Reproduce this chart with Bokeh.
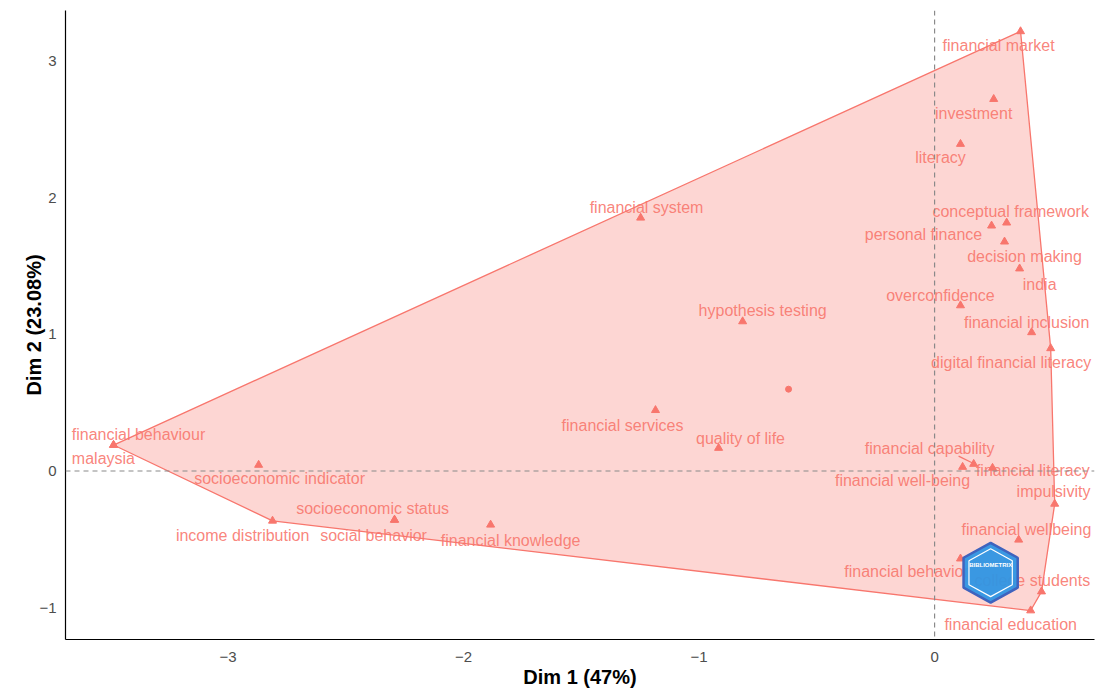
import numpy as np
from bokeh.plotting import figure
from bokeh.models import Range1d, FixedTicker, Span, ColumnDataSource
from bokeh.core.properties import value
from bokeh.embed import file_html
from bokeh.resources import INLINE

# ---- data ----
terms = ["financial market", "investment", "literacy", "conceptual framework",
         "personal finance", "decision making", "india", "overconfidence",
         "financial inclusion", "digital financial literacy", "financial capability",
         "financial well-being", "financial literacy", "impulsivity",
         "financial wellbeing", "financial behavior", "college students",
         "financial education", "financial system", "hypothesis testing",
         "financial services", "quality of life", "financial behaviour", "malaysia",
         "socioeconomic indicator", "income distribution", "socioeconomic status",
         "social behavior", "financial knowledge"]
dim1 = [0.365, 0.251, 0.110, 0.306, 0.242, 0.297, 0.361, 0.110, 0.412, 0.493,
        0.166, 0.119, 0.246, 0.510, 0.357, 0.110, 0.454, 0.408, -1.248, -0.815,
        -1.185, -0.917, -3.486, -3.486, -2.870, -2.811, -2.293, -2.293, -1.885]
dim2 = [3.219, 2.723, 2.394, 1.818, 1.796, 1.679, 1.482, 1.212, 1.015, 0.898,
        0.051, 0.029, 0.022, -0.241, -0.504, -0.642, -0.883, -1.022, 1.854, 1.095,
        0.445, 0.168, 0.190, 0.190, 0.044, -0.365, -0.358, -0.358, -0.394]
# repelled label positions
label_x = [0.272, 0.166, 0.025, 0.323, -0.047, 0.382, 0.446, 0.025, 0.391, 0.325,
           -0.021, -0.136, 0.417, 0.505, 0.390, -0.119, 0.415, 0.323, -1.223, -0.730,
           -1.325, -0.824, -3.380, -3.529, -2.781, -2.938, -2.386, -2.382, -1.800]
label_y = [3.117, 2.620, 2.292, 1.898, 1.730, 1.569, 1.365, 1.285, 1.088, 0.796,
           0.161, -0.073, 0.007, -0.153, -0.431, -0.737, -0.803, -1.124, 1.927, 1.175,
           0.336, 0.241, 0.270, 0.088, -0.058, -0.474, -0.277, -0.474, -0.511]
# repel connector (financial capability)
seg_x0 = [0.102]
seg_y0 = [0.109]
seg_x1 = [0.161]
seg_y1 = [0.058]
# cluster centroid
centroid_x = [-0.620]
centroid_y = [0.599]

x_ticks = [-3, -2, -1, 0]
y_ticks = [-1, 0, 1, 2, 3]

RED = "#F8766D"


def convex_hull(xs, ys):
    pts = sorted(set(zip(xs, ys)))

    def cross(o, a, b):
        return (a[0] - o[0]) * (b[1] - o[1]) - (a[1] - o[1]) * (b[0] - o[0])

    lower, upper = [], []
    for p_ in pts:
        while len(lower) >= 2 and cross(lower[-2], lower[-1], p_) <= 0:
            lower.pop()
        lower.append(p_)
    for p_ in reversed(pts):
        while len(upper) >= 2 and cross(upper[-2], upper[-1], p_) <= 0:
            upper.pop()
        upper.append(p_)
    hull = lower[:-1] + upper[:-1]
    return [h[0] for h in hull], [h[1] for h in hull]


hx, hy = convex_hull(dim1, dim2)

p = figure(width=1095, height=690, output_backend="svg", toolbar_location=None,
           x_range=Range1d(-3.690, 0.679), y_range=Range1d(-1.234, 3.372),
           min_border_left=65, min_border_bottom=49, min_border_top=10, min_border_right=1)
p.outline_line_color = None
p.xgrid.visible = False
p.ygrid.visible = False
p.background_fill_color = "white"
p.border_fill_color = "white"

p.patch(hx, hy, fill_color=RED, fill_alpha=0.3, line_color=RED, line_width=1.3)

p.add_layout(Span(location=0, dimension="height", line_color="#8a8a8a",
                  line_dash="5 4", line_width=1.2))
p.add_layout(Span(location=0, dimension="width", line_color="#8a8a8a",
                  line_dash="5 4", line_width=1.2))

src = ColumnDataSource(dict(x=dim1, y=dim2, lx=label_x, ly=label_y, t=terms))
p.scatter("x", "y", source=src, marker="triangle", size=8, fill_color=RED,
          line_color=RED)
p.segment(seg_x0, seg_y0, seg_x1, seg_y1, line_color=RED, line_width=1.2)
p.scatter(centroid_x, centroid_y, marker="circle", size=6, fill_color=RED, line_color=RED)
p.text("lx", "ly", text="t", source=src, text_color=RED, text_alpha=0.9,
       text_font=value("Liberation Sans"), text_font_size="16px",
       text_align="center", text_baseline="middle")

# bibliometrix watermark (decoration)
cx, cy, w, h = 0.238, -0.745, 0.115, 0.219
p.patch([cx, cx + w, cx + w, cx, cx - w, cx - w],
        [cy + h, cy + h / 2, cy - h / 2, cy - h, cy - h / 2, cy + h / 2],
        fill_color="#2F95E3", fill_alpha=0.95, line_color="#3F63BE", line_width=2.5)
p.patch([cx, cx + w * 0.8, cx + w * 0.8, cx, cx - w * 0.8, cx - w * 0.8],
        [cy + h * 0.8, cy + h * 0.4, cy - h * 0.4, cy - h * 0.8, cy - h * 0.4, cy + h * 0.4],
        fill_color=None, line_color="white", line_width=1.2)
p.text([cx], [cy + h * 0.25], text=["BIBLIOMETRIX"], text_color="white",
       text_font=value("Liberation Sans"), text_font_size="6px", text_font_style="bold",
       text_align="center", text_baseline="middle")

for ax in (p.xaxis, p.yaxis):
    ax.axis_line_color = "black"
    ax.axis_line_width = 1.2
    ax.major_tick_line_color = None
    ax.minor_tick_line_color = None
    ax.major_label_text_color = "#4D4D4D"
    ax.major_label_text_font = "Liberation Sans"
    ax.major_label_text_font_size = "15px"
    ax.axis_label_text_font = "Liberation Sans"
    ax.axis_label_text_font_size = "20px"
    ax.axis_label_text_font_style = "bold"
    ax.axis_label_text_color = "black"

p.xaxis.ticker = FixedTicker(ticks=x_ticks)
p.yaxis.ticker = FixedTicker(ticks=y_ticks)
p.xaxis.axis_label = "Dim 1 (47%)"
p.yaxis.axis_label = "Dim 2 (23.08%)"
p.xaxis.major_label_standoff = 6
p.xaxis.axis_label_standoff = 1
p.yaxis.major_label_standoff = 3
p.yaxis.axis_label_standoff = -9

open("out.html", "w").write(file_html(p, INLINE))
